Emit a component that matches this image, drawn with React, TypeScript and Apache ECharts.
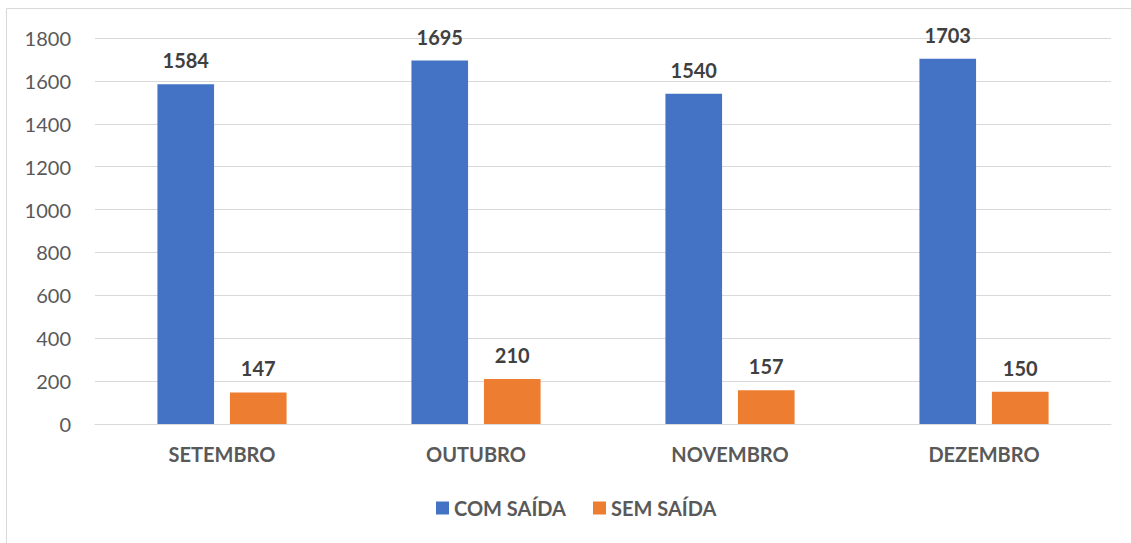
import React, { useEffect, useRef } from "react";
import * as echarts from "echarts";

const categories = ["SETEMBRO", "OUTUBRO", "NOVEMBRO", "DEZEMBRO"];
const comSaida = [1584, 1695, 1540, 1703];
const semSaida = [147, 210, 157, 150];
const seriesNames = ["COM SAÍDA", "SEM SAÍDA"];

const FONT = "Lato, 'Open Sans', sans-serif";

export default function App() {
  const ref = useRef<HTMLDivElement>(null);
  useEffect(() => {
    if (!ref.current) return;
    const chart = echarts.init(ref.current, undefined, { renderer: "svg" });
    const label = {
      show: true,
      position: "top",
      distance: 14,
      fontFamily: FONT,
      fontSize: 20,
      fontWeight: "bold",
      color: "#404040",
    };
    chart.setOption({
      animation: false,
      backgroundColor: "#ffffff",
      textStyle: { fontFamily: FONT },
      graphic: [
        {
          type: "rect",
          shape: { x: 6.5, y: 8.5, width: 1200, height: 600 },
          style: { fill: "none", stroke: "#d9d9d9", lineWidth: 1 },
          silent: true,
        },
      ],
      grid: { left: 95, right: 20, top: 38, height: 386 },
      legend: {
        left: 431,
        top: 493,
        itemWidth: 13,
        itemHeight: 13,
        itemGap: 27,
        icon: "rect",
        textStyle: {
          fontFamily: FONT,
          fontSize: 20,
          fontWeight: "bold",
          color: "#595959",
          lineHeight: 20,
        },
        data: seriesNames,
      },
      xAxis: {
        type: "category",
        data: categories,
        axisLine: { lineStyle: { color: "#d9d9d9", width: 1 } },
        axisTick: { show: false },
        axisLabel: {
          fontFamily: FONT,
          fontSize: 20,
          fontWeight: "bold",
          color: "#595959",
          margin: 20,
        },
      },
      yAxis: {
        type: "value",
        min: 0,
        max: 1800,
        interval: 200,
        axisLine: { show: false },
        axisTick: { show: false },
        splitLine: { lineStyle: { color: "#d9d9d9", width: 1 } },
        axisLabel: {
          fontFamily: FONT,
          fontSize: 20,
          color: "#595959",
          margin: 24,
          formatter: (v: number) => String(v),
        },
      },
      series: [
        {
          name: seriesNames[0],
          type: "bar",
          data: comSaida,
          barWidth: "22.3%",
          barGap: "28%",
          itemStyle: { color: "#4472C4" },
          label,
        },
        {
          name: seriesNames[1],
          type: "bar",
          data: semSaida,
          barWidth: "22.3%",
          barGap: "28%",
          itemStyle: { color: "#ED7D31" },
          label,
        },
      ],
    });
    return () => chart.dispose();
  }, []);
  return (
    <div
      ref={ref}
      style={{ position: "absolute", left: 0, top: 0, width: 1131, height: 543 }}
    />
  );
}
